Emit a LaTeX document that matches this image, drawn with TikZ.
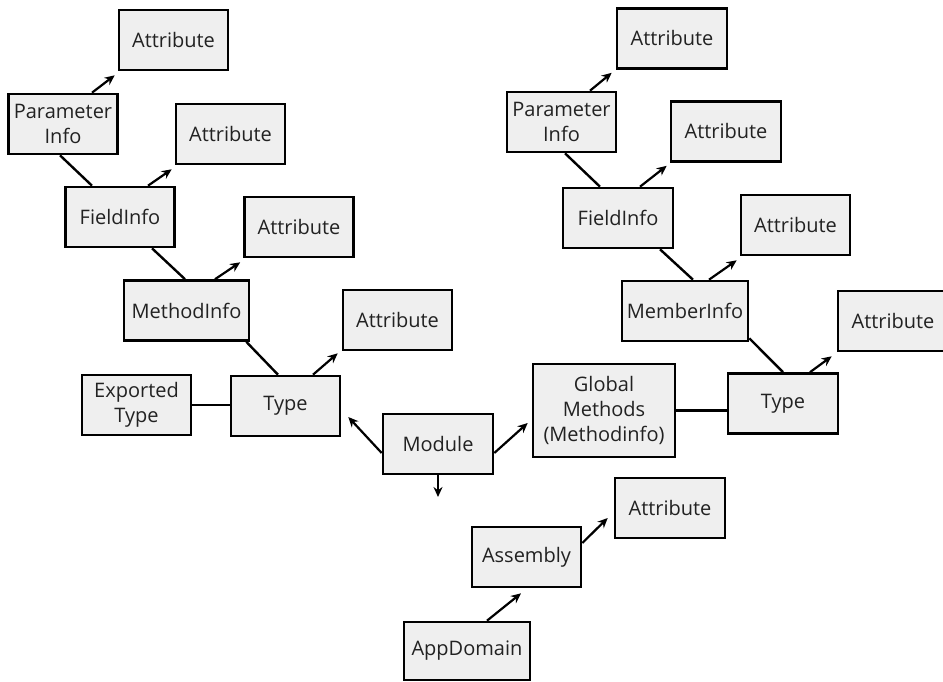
\documentclass[tikz,border=0pt]{standalone}
\usepackage{fontspec}
\setmainfont{Open Sans}
\usetikzlibrary{arrows.meta}

\definecolor{boxgray}{HTML}{EFEFEF}
\definecolor{txtgray}{HTML}{222222}

\begin{document}
\begin{tikzpicture}[x=1pt, y=-1pt,
  box/.style={draw, line width=2.6pt, fill=boxgray, text=txtgray, align=center,
    inner sep=0pt, minimum width=109pt, minimum height=60pt,
    font=\fontsize{20}{25}\selectfont},
  link/.style={line width=2.4pt},
  arr/.style={line width=2.2pt, -{Stealth[length=10pt,width=9pt]}}]

\useasboundingbox (0,0) rectangle (943,682);

% left branch
\node[box] (a1) at (173.5,40) {Attribute};
\node[box] (pl) at (63,124) {Parameter\\Info};
\node[box] (a2) at (230.5,134) {Attribute};
\node[box] (fl) at (120,217) {FieldInfo};
\node[box] (a3) at (299,227) {Attribute};
\node[box, minimum width=125pt] (ml) at (186.5,310.5) {MethodInfo};
\node[box] (a4) at (397.5,320) {Attribute};
\node[box] (et) at (136.5,405) {Exported\\Type};
\node[box] (tl) at (285.5,406) {Type};

% middle
\node[box, minimum width=110pt] (mod) at (438,444) {Module};
\coordinate (down) at (438,497);
\node[box] (asm) at (526.5,557) {Assembly};
\node[box, minimum width=110pt] (a9) at (670,508) {Attribute};
\node[box, minimum width=126pt, minimum height=58pt] (app) at (467,651) {AppDomain};

% right branch
\node[box, minimum width=110pt] (a5) at (672,38.5) {Attribute};
\node[box] (pr) at (561.5,122) {Parameter\\Info};
\node[box, minimum width=110pt] (a6) at (726,131.5) {Attribute};
\node[box, minimum width=110pt] (fr) at (618,218) {FieldInfo};
\node[box] (a7) at (795.5,225) {Attribute};
\node[box, minimum width=126pt] (mi) at (685,311) {MemberInfo};
\node[box, minimum width=110pt] (a8) at (893,321) {Attribute};
\node[box, minimum width=142pt, minimum height=93pt] (gm) at (604,410.5) {Global\\Methods\\(Methodinfo)};
\node[box, minimum width=110pt] (tr) at (783,403.5) {Type};

% connectors, left
\draw[arr] ([xshift=29pt]pl.north) -- ([shift={(-3pt,-4pt)}]a1.south west);
\draw[link] ([xshift=-3pt]pl.south) -- ([xshift=-28pt]fl.north);
\draw[arr] ([xshift=28pt]fl.north) -- ([shift={(-3pt,-4pt)}]a2.south west);
\draw[link] ([xshift=32pt]fl.south) -- ([xshift=-1.5pt]ml.north);
\draw[arr] ([xshift=28.5pt]ml.north) -- ([shift={(-3pt,-4pt)}]a3.south west);
\draw[link] ([xshift=-4pt]ml.south east) -- ([xshift=-7.5pt]tl.north);
\draw[arr] ([xshift=27.5pt]tl.north) -- ([shift={(-4pt,-2pt)}]a4.south west);
\draw[link] (et.east) -- (et.east -| tl.west);

% connectors, middle
\draw[arr] ([yshift=-9pt]mod.west) -- ([shift={(7pt,-11pt)}]tl.east);
\draw[arr] ([yshift=-9pt]mod.east) -- ([shift={(-4pt,-12.5pt)}]gm.west);
\draw[arr] (mod.south) -- (down);
\draw[arr] ([yshift=14pt]asm.east) -- ([shift={(-6pt,-10pt)}]a9.west);
\draw[arr] ([xshift=20pt]app.north) -- ([shift={(-5.5pt,-5pt)}]asm.south);

% connectors, right
\draw[arr] ([xshift=28.5pt]pr.north) -- ([shift={(-4pt,-3pt)}]a5.south west);
\draw[link] ([xshift=3.5pt]pr.south) -- ([xshift=-18pt]fr.north);
\draw[arr] ([xshift=22pt]fr.north) -- ([shift={(-3pt,-3pt)}]a6.south west);
\draw[link] ([xshift=42pt]fr.south) -- ([xshift=8pt]mi.north);
\draw[arr] ([xshift=24pt]mi.north) -- ([shift={(-3pt,-4pt)}]a7.south west);
\draw[link] ([yshift=4pt]mi.south east) -- (tr.north);
\draw[arr] ([xshift=27pt]tr.north) -- ([shift={(-5pt,-4pt)}]a8.south west);
\draw[link] (gm.east) -- (gm.east -| tr.west);

\end{tikzpicture}
\end{document}
